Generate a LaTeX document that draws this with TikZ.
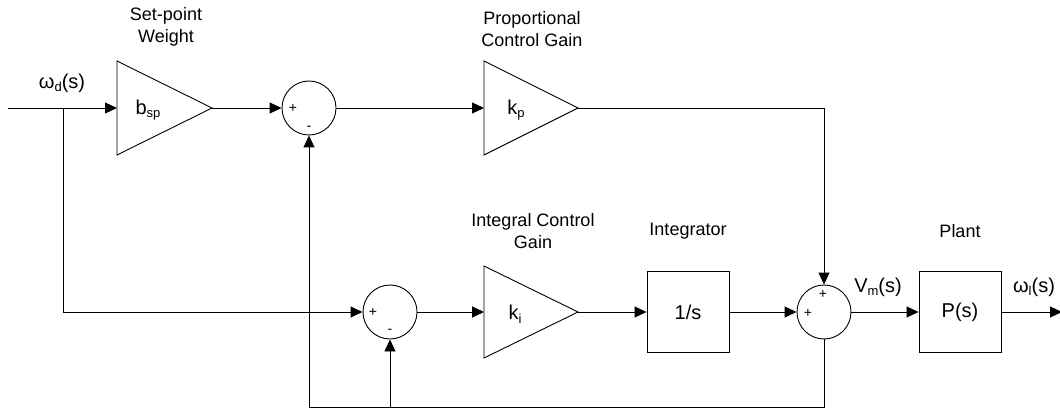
\documentclass[tikz,border=0pt]{standalone}
\usepackage{fontspec}
\setmainfont{Liberation Sans}
\usetikzlibrary{arrows.meta}
\newcommand\lsub[1]{\raisebox{-0.35ex}{\fontsize{13}{13}\selectfont #1}}
\begin{document}
\begin{tikzpicture}[x=1pt,y=-1pt,
  wire/.style={line width=0.9pt},
  arr/.style={wire,-{Triangle[length=12pt,width=11pt]}},
  sumj/.style={circle,draw,line width=0.9pt,minimum size=54pt,inner sep=0pt},
  blk/.style={draw,line width=0.9pt,minimum width=82pt,minimum height=81pt,inner sep=0pt,font=\fontsize{20}{24}\selectfont},
  gaintxt/.style={font=\fontsize{20}{24}\selectfont,inner sep=0pt},
  lbl/.style={font=\fontsize{18}{22}\selectfont,align=center,inner sep=0pt},
  sgn/.style={font=\fontsize{14}{14}\selectfont,inner sep=0pt}]
\useasboundingbox (0,0) rectangle (1060,414);

% gains (triangles)
\draw[wire] (117,61) -- (212,108) -- (117,155) -- cycle;
\coordinate (bspin) at (117,108);
\coordinate (bspout) at (212,108);
\node[gaintxt] (bsptxt) at (148,110) {b\lsub{sp}};

\draw[wire] (484,61) -- (578,108) -- (484,155) -- cycle;
\coordinate (kpin) at (484,108);
\coordinate (kpout) at (578,108);
\node[gaintxt] (kptxt) at (516,110) {k\lsub{p}};

\draw[wire] (484,266) -- (578,312) -- (484,358) -- cycle;
\coordinate (kiin) at (484,312);
\coordinate (kiout) at (578,312);
\node[gaintxt] (kitxt) at (515,314) {k\lsub{i}};

% blocks
\node[blk] (integ) at (688,312) {1/s};
\node[blk] (plant) at (960,312) {P(s)};

% summing junctions
\node[sumj] (s1) at (309,108) {};
\node[sumj] (s2) at (390,312) {};
\node[sumj] (s3) at (824,312) {};

\node[sgn] (s1p) at (293,108) {+};
\node[sgn] (s1m) at (309,128) {-};
\node[sgn] (s2p) at (373,312) {+};
\node[sgn] (s2m) at (390,331) {-};
\node[sgn] (s3pa) at (823,294) {+};
\node[sgn] (s3pb) at (808,313) {+};

% labels
\node[lbl] (lsp) at (166,27) {Set-point\\Weight};
\node[lbl] (lkp) at (532,29) {Proportional\\Control Gain};
\node[lbl] (lki) at (533,231) {Integral Control\\Gain};
\node[lbl] (lint) at (688,231) {Integrator};
\node[lbl] (lpl) at (960,231) {Plant};
\node[gaintxt] (lwd) at (62,83) {ω\lsub{d}(s)};
\node[gaintxt] (lvm) at (878,287) {V\lsub{m}(s)};
\node[gaintxt] (lwl) at (1034,287) {ω\lsub{l}(s)};

% coordinates
\coordinate (win) at (8,108);
\coordinate (br1) at (63,108);
\coordinate (wout) at (1062,312);
\coordinate (fbR) at (824,407);
\coordinate (fbM) at (390,407);

% connectors
\draw[arr] (win) -- (bspin);
\draw[arr] (br1) |- (s2.west);
\draw[arr] (bspout) -- (s1.west);
\draw[arr] (s1.east) -- (kpin);
\draw[arr] (kpout) -| (s3.north);
\draw[arr] (s2.east) -- (kiin);
\draw[arr] (kiout) -- (integ.west);
\draw[arr] (integ.east) -- (s3.west);
\draw[arr] (s3.east) -- (plant.west);
\draw[arr] (plant.east) -- (wout);
\draw[arr] (s3.south) -- (fbR) -| (s1.south);
\draw[arr] (fbM) -- (s2.south);
\end{tikzpicture}
\end{document}
